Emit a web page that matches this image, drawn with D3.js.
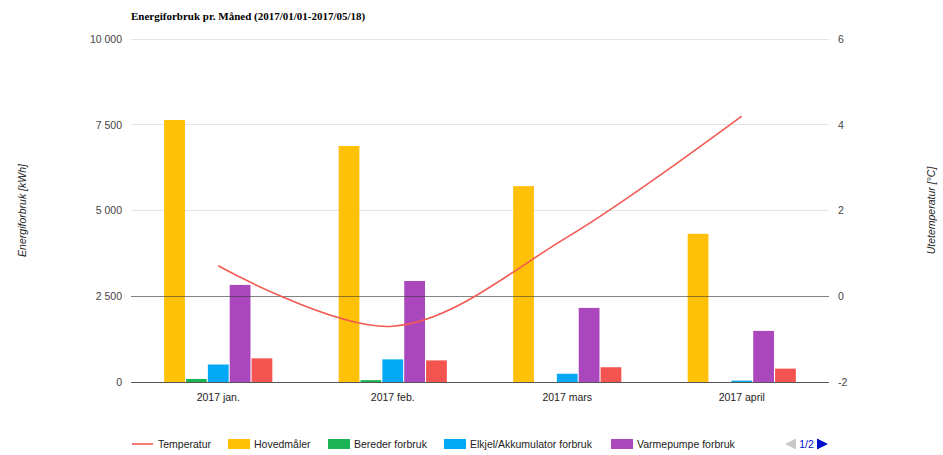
<!DOCTYPE html>
<html>
<head>
<meta charset="utf-8">
<script src="https://cdn.jsdelivr.net/npm/d3@7/dist/d3.min.js"></script>
<style>
  html, body { margin: 0; padding: 0; background: #fff; }
  svg { display: block; }
</style>
</head>
<body>
<svg id="chart" width="943" height="455"></svg>
<script>
// Monthly energy consumption (kWh) per meter, with average outdoor temperature (°C)
const months = ["2017 jan.", "2017 feb.", "2017 mars", "2017 april"];
const hovedmaler = [7640, 6880, 5710, 4320];
const bereder = [90, 55, 0, 0];
const elkjel = [510, 660, 240, 40];
const varmepumpe = [2830, 2945, 2160, 1490];
const ovrig = [690, 630, 430, 390];
const temperatur = [0.71, -0.70, 1.38, 4.2];

const barSeries = [
  { name: "Hovedmåler", values: hovedmaler, color: "#ffc107" },
  { name: "Bereder forbruk", values: bereder, color: "#1db456" },
  { name: "Elkjel/Akkumulator forbruk", values: elkjel, color: "#03a9f4" },
  { name: "Varmepumpe forbruk", values: varmepumpe, color: "#ab47bc" },
  { name: "Øvrig forbruk", values: ovrig, color: "#f4544f" }
];
const lineColor = "#f25a52";

const leftTicks = [0, 2500, 5000, 7500, 10000];
const rightTicks = [-2, 0, 2, 4, 6];

const title = "Energiforbruk pr. Måned (2017/01/01-2017/05/18)";
const leftTitle = "Energiforbruk [kWh]";
const rightTitle = "Utetemperatur [°C]";

const SANS = "Arial, 'Liberation Sans', sans-serif";
const SERIF = "'Times New Roman', 'Liberation Serif', serif";

const svg = d3.select("#chart");
const plot = { left: 131, right: 829, top: 39, bottom: 382 };

const yLeft = d3.scaleLinear().domain([0, 10000]).range([plot.bottom, plot.top]);
const yRight = d3.scaleLinear().domain([-2, 6]).range([plot.bottom, plot.top]);
const x0 = d3.scaleBand().domain(months).range([plot.left, plot.right])
  .paddingInner(0.38).paddingOuter(0.19);
const x1 = d3.scaleBand().domain(barSeries.map(s => s.name))
  .range([0, x0.bandwidth()]).paddingInner(0.05);

const fmtLeft = v => d3.format(",")(v).replace(/,/g, " ");
const fmtRight = v => String(v);

// Title
svg.append("text")
  .attr("x", plot.left).attr("y", 20)
  .style("font-family", SERIF)
  .style("font-weight", "bold").style("font-size", "11px")
  .attr("fill", "#000")
  .text(title);

// Gridlines
svg.append("g").selectAll("line").data(leftTicks).join("line")
  .attr("x1", plot.left).attr("x2", plot.right)
  .attr("y1", d => yLeft(d)).attr("y2", d => yLeft(d))
  .attr("stroke", "#e4e4e4").attr("stroke-width", 1)
  .attr("shape-rendering", "crispEdges");

// Left axis
const leftAxis = svg.append("g")
  .attr("transform", `translate(${plot.left},0)`)
  .call(d3.axisLeft(yLeft).tickValues(leftTicks).tickFormat(fmtLeft).tickSize(0).tickPadding(9));
leftAxis.select(".domain").remove();
leftAxis.selectAll("text").style("font-size", "10.5px").attr("fill", "#444")
  .style("font-family", SANS);

// Right axis
const rightAxis = svg.append("g")
  .attr("transform", `translate(${plot.right},0)`)
  .call(d3.axisRight(yRight).tickValues(rightTicks).tickFormat(fmtRight).tickSize(0).tickPadding(9));
rightAxis.select(".domain").remove();
rightAxis.selectAll("text").style("font-size", "10.5px").attr("fill", "#444")
  .style("font-family", SANS);

// Axis titles
svg.append("text")
  .attr("transform", `translate(25.5,${(plot.top + plot.bottom) / 2}) rotate(-90)`)
  .attr("text-anchor", "middle").style("font-style", "italic")
  .style("font-family", SANS).style("font-size", "10.5px").attr("fill", "#222")
  .text(leftTitle);
svg.append("text")
  .attr("transform", `translate(935,${(plot.top + plot.bottom) / 2}) rotate(-90)`)
  .attr("text-anchor", "middle").style("font-style", "italic")
  .style("font-family", SANS).style("font-size", "10.5px").attr("fill", "#222")
  .text(rightTitle);

// Bars
const groups = svg.append("g").selectAll("g").data(months).join("g")
  .attr("transform", d => `translate(${x0(d)},0)`);
groups.selectAll("rect")
  .data((m, i) => barSeries.map(s => ({ name: s.name, color: s.color, value: s.values[i] })))
  .join("rect")
  .attr("x", d => x1(d.name))
  .attr("width", x1.bandwidth())
  .attr("y", d => yLeft(d.value))
  .attr("height", d => yLeft(0) - yLeft(d.value))
  .attr("fill", d => d.color);

// Baselines: zero of the temperature axis and zero of the energy axis
svg.append("line")
  .attr("x1", plot.left).attr("x2", plot.right)
  .attr("y1", yRight(0)).attr("y2", yRight(0))
  .attr("stroke", "#333").attr("stroke-opacity", 0.55)
  .attr("shape-rendering", "crispEdges");
svg.append("line")
  .attr("x1", plot.left).attr("x2", plot.right)
  .attr("y1", yLeft(0)).attr("y2", yLeft(0))
  .attr("stroke", "#333").attr("stroke-opacity", 0.8)
  .attr("shape-rendering", "crispEdges");

// Temperature line
const line = d3.line()
  .x((d, i) => x0(months[i]) + x0.bandwidth() / 2)
  .y(d => yRight(d))
  .curve(d3.curveCatmullRom.alpha(0.5));
svg.append("path")
  .datum(temperatur)
  .attr("d", line)
  .attr("fill", "none")
  .attr("stroke", lineColor)
  .attr("stroke-width", 1.6);

// Category labels
svg.append("g").selectAll("text").data(months).join("text")
  .attr("x", d => x0(d) + x0.bandwidth() / 2)
  .attr("y", 401)
  .attr("text-anchor", "middle")
  .style("font-family", SANS).style("font-size", "10.5px").attr("fill", "#222")
  .text(d => d);

// Legend (first page of two)
const legendY = 444;
const legendItems = [
  { name: "Temperatur", color: lineColor, type: "line", x: 132 },
  { name: barSeries[0].name, color: barSeries[0].color, type: "rect", x: 228 },
  { name: barSeries[1].name, color: barSeries[1].color, type: "rect", x: 328 },
  { name: barSeries[2].name, color: barSeries[2].color, type: "rect", x: 444 },
  { name: barSeries[3].name, color: barSeries[3].color, type: "rect", x: 611 }
];
const legend = svg.append("g");
legendItems.forEach(it => {
  if (it.type === "line") {
    legend.append("line")
      .attr("x1", it.x).attr("x2", it.x + 21)
      .attr("y1", legendY).attr("y2", legendY)
      .attr("stroke", it.color).attr("stroke-width", 1.6);
  } else {
    legend.append("rect")
      .attr("x", it.x).attr("y", legendY - 5)
      .attr("width", 22).attr("height", 10)
      .attr("fill", it.color);
  }
  legend.append("text")
    .attr("x", it.x + 26).attr("y", legendY + 4)
    .style("font-family", SANS).style("font-size", "10.5px").attr("fill", "#222")
    .text(it.name);
});

// Legend pager
legend.append("path")
  .attr("d", d3.line()([[796, legendY - 5.5], [796, legendY + 5.5], [785, legendY]]) + "Z")
  .attr("fill", "#c8c8c8");
legend.append("text")
  .attr("x", 806.5).attr("y", legendY + 4)
  .attr("text-anchor", "middle")
  .style("font-family", SANS).style("font-size", "10.5px").attr("fill", "#0011cc")
  .text("1/2");
legend.append("path")
  .attr("d", d3.line()([[817, legendY - 5.5], [817, legendY + 5.5], [828, legendY]]) + "Z")
  .attr("fill", "#0011cc");
</script>
</body>
</html>
